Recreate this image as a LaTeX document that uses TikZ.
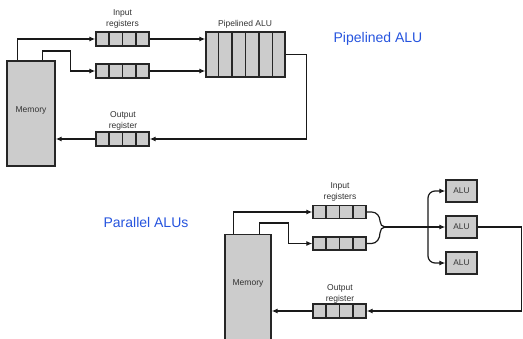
\documentclass[tikz,border=0pt]{standalone}
\usepackage{fontspec}
\setmainfont{Liberation Sans}
\usetikzlibrary{arrows.meta,calc}
\definecolor{boxfill}{RGB}{204,204,204}
\definecolor{labelblue}{RGB}{38,84,222}
\definecolor{txt}{RGB}{50,50,50}
\newcommand\regcells[2]{%
  \foreach \i in {1,...,#2}{%
    \pgfmathsetmacro\cellfrac{\i/(#2+1)}%
    \draw[cellline] ($(#1.south west)!\cellfrac!(#1.south east)$) -- ($(#1.north west)!\cellfrac!(#1.north east)$);}}
\tikzset{
  x=1pt, y=1pt,
  wire/.style={line width=1.2pt, black!90},
  arr/.style={wire, -{Latex[length=6pt,width=5pt]}},
  cellline/.style={line width=1.4pt, black!85},
  regbox/.style={draw=black!85, line width=1.3pt, fill=boxfill, inner sep=0pt,
    minimum width=53pt, minimum height=14pt},
  alubox/.style={regbox, minimum width=31pt, minimum height=22pt,
    font=\fontsize{8.3}{9}\selectfont, text=txt},
  membox/.style={regbox, minimum width=48pt},
  lbl/.style={font=\fontsize{8.5}{11}\selectfont, text=txt, align=center},
  title/.style={font=\fontsize{14}{16}\selectfont, text=labelblue}
}
\begin{document}
\begin{tikzpicture}
\useasboundingbox (0,0) rectangle (523,-338);
% ---------- Pipelined ALU ----------
\node[membox, minimum height=105pt] (mem1) at (31,-113.5) {};
\node[lbl] (memlbl1) at (31,-110) {Memory};
\node[regbox] (ra1) at (122.5,-39) {};
\node[regbox] (rb1) at (122.5,-71) {};
\node[regbox, minimum width=79pt, minimum height=45pt] (palu) at (245.5,-54.5) {};
\node[regbox] (out1) at (122.5,-139) {};
\regcells{ra1}{3}
\regcells{rb1}{3}
\regcells{out1}{3}
\regcells{palu}{5}
\node[lbl] (inlbl1) at (122.5,-19) {Input\\registers};
\node[lbl] (palulbl) at (245,-24) {Pipelined ALU};
\node[lbl] (outlbl1) at (123,-121) {Output\\register};
\node[title] (t1) at (378,-39) {Pipelined ALU};
\draw[arr] ([xshift=11pt]mem1.north west) |- (ra1.west);
\draw[arr] ([xshift=36pt]mem1.north west) |- ([xshift=-25pt,yshift=20pt]rb1.west) |- (rb1.west);
\draw[arr] (ra1.east) -- (ra1.east -| palu.west);
\draw[arr] (rb1.east) -- (rb1.east -| palu.west);
\draw[arr] (palu.east) -- ++(21,0) |- (out1.east);
\draw[arr] (out1.west) -- (out1.west -| mem1.east);
% ---------- Parallel ALUs ----------
\node[title] (t2) at (146,-222) {Parallel ALUs};
\node[membox, minimum width=46pt, minimum height=110pt] (mem2) at (248,-289.5) {};
\node[lbl] (memlbl2) at (248,-283) {Memory};
\node[regbox, minimum height=13pt] (ra2) at (339.5,-212) {};
\node[regbox, minimum height=13pt] (rb2) at (339.5,-243.5) {};
\node[regbox] (out2) at (339.5,-311) {};
\regcells{ra2}{3}
\regcells{rb2}{3}
\regcells{out2}{3}
\node[alubox] (a1) at (461.5,-191) {ALU};
\node[alubox] (a2) at (461.5,-227) {ALU};
\node[alubox] (a3) at (461.5,-263) {ALU};
\node[lbl] (inlbl2) at (340,-191.5) {Input\\registers};
\node[lbl] (outlbl2) at (340,-293.5) {Output\\register};
\coordinate (m) at (385,-227);
\coordinate (f) at (428,-227);
\draw[arr] ([xshift=9pt]mem2.north west) |- (ra2.west);
\draw[arr] ([xshift=35pt]mem2.north west) |- ([xshift=-24pt,yshift=20.5pt]rb2.west) |- (rb2.west);
\draw[wire] (ra2.east) -- ++(5,0) to[out=0,in=90] ($(m)+(-5,6)$) to[out=-90,in=180] (m);
\draw[wire] (rb2.east) -- ++(5,0) to[out=0,in=-90] ($(m)+(-5,-6)$) to[out=90,in=180] (m);
\draw[arr] (m) -- (a2.west);
\draw[arr] (f) -- ++(0,29) to[out=90,in=180] ++(7,7) -- (a1.west);
\draw[arr] (f) -- ++(0,-29) to[out=-90,in=180] ++(7,-7) -- (a3.west);
\draw[arr] (a2.east) -- ++(44,0) |- (out2.east);
\draw[arr] (out2.west) -- (out2.west -| mem2.east);
\end{tikzpicture}
\end{document}
